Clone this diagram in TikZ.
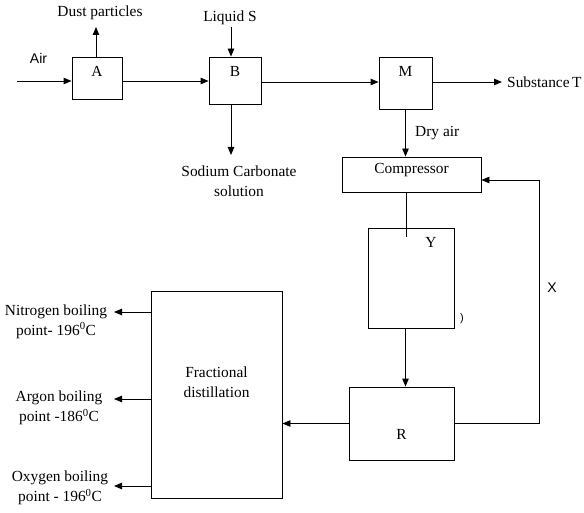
\documentclass[tikz,border=0pt]{standalone}
\usepackage{fontspec}
\setmainfont{Liberation Serif}
\newfontfamily\arialfont{Liberation Sans}
\usetikzlibrary{arrows.meta, positioning, calc}

\begin{document}
\begin{tikzpicture}[
    x=1pt, y=-1pt,
    font=\fontsize{15.4}{20}\selectfont,
    unit/.style={draw, line width=0.9pt, inner sep=0pt},
    flow/.style={-{Triangle[length=8pt, width=6.5pt]}, line width=0.9pt},
    pipe/.style={line width=0.9pt},
    caption/.style={align=center, inner sep=0pt},
    tag/.style={font=\arialfont\fontsize{14}{16}\selectfont, inner sep=0pt}
]
    \useasboundingbox (0,0) rectangle (584,513);

    % Purification units
    \node[unit, minimum width=50pt, minimum height=42pt,
          label={[yshift=7pt]center:A}] (A) at (97,78) {};
    \node[unit, minimum width=52pt, minimum height=47pt,
          label={[yshift=9.5pt]center:B}] (B) at (235,80.5) {};
    \node[unit, minimum width=53pt, minimum height=52pt,
          label={[yshift=12pt]center:M}] (M) at (405.5,83) {};
    \node[unit, minimum width=139pt, minimum height=35pt,
          label={[yshift=4.5pt]center:Compressor}] (comp) at (411.5,174.5) {};
    \node[unit, minimum width=86pt, minimum height=100pt] (Y) at (411,278) {};
    \node[unit, minimum width=105pt, minimum height=73pt,
          label={[yshift=-10.5pt]center:R}] (R) at (401.5,423.5) {};
    \node[unit, minimum width=131pt, minimum height=207pt,
          label={[yshift=12.5pt, align=center]center:Fractional\\distillation}] (fd) at (216.5,394.5) {};

    % Labels
    \node[tag] (air) at (38.5,58) {Air};
    \node[caption] (dust) at (100,13) {Dust particles};
    \node[caption] (liq) at (230,18) {Liquid S};
    \node[caption] (soda) at (239,181) {Sodium Carbonate\\solution};
    \node[caption, anchor=west] (subT) at (507,82) {Substance\,T};
    \node[caption, anchor=west] (dry) at (415,133) {Dry air};
    \node[caption] (ytag) at (431,242) {Y};
    \node[tag, font=\arialfont\fontsize{11}{12}\selectfont] (cut) at (462,319) {)};
    \node[tag] (xtag) at (552,288) {X};
    \node[caption] (n2) at (56,321.5) {Nitrogen boiling\\point- 196\textsuperscript{0}C};
    \node[caption] (ar) at (59,408) {Argon boiling\\point -186\textsuperscript{0}C};
    \node[caption] (o2) at (60,488) {Oxygen boiling\\point - 196\textsuperscript{0}C};

    % Free ends
    \coordinate (airin) at (17,81);
    \coordinate (dustout) at (96,27);
    \coordinate (liqin) at (231,27);
    \coordinate (sodaout) at (231,155);
    \coordinate (tout) at (502,82);
    \coordinate (yin) at (406,237);
    \coordinate (ydrop) at (405.5,0);
    \coordinate (xloop) at (539,180);
    \coordinate (n2out) at (114,312);
    \coordinate (arout) at (114,399);
    \coordinate (o2out) at (114,486);

    % Connectors
    \draw[flow] (airin) -- (airin -| A.west);
    \draw[flow] (A.north -| dustout) -- (dustout);
    \draw[flow] (A.east |- airin) -- (B.west |- airin);
    \draw[flow] (liqin) -- (B.north -| liqin);
    \draw[flow] (B.south -| sodaout) -- (sodaout);
    \draw[flow] (B.east |- tout) -- (M.west |- tout);
    \draw[flow] (M.east |- tout) -- (tout);
    \draw[flow] (M.south) -- (M.south |- comp.north);
    \draw[pipe] (yin |- comp.south) -- (yin);
    \draw[flow] (Y.south -| ydrop) -- (R.north -| ydrop);
    \draw[flow] (R.east) -| (xloop) -- (xloop -| comp.east);
    \draw[flow] (R.west) -- (R.west -| fd.east);
    \draw[flow] (fd.west |- n2out) -- (n2out);
    \draw[flow] (fd.west |- arout) -- (arout);
    \draw[flow] (fd.west |- o2out) -- (o2out);
\end{tikzpicture}
\end{document}
